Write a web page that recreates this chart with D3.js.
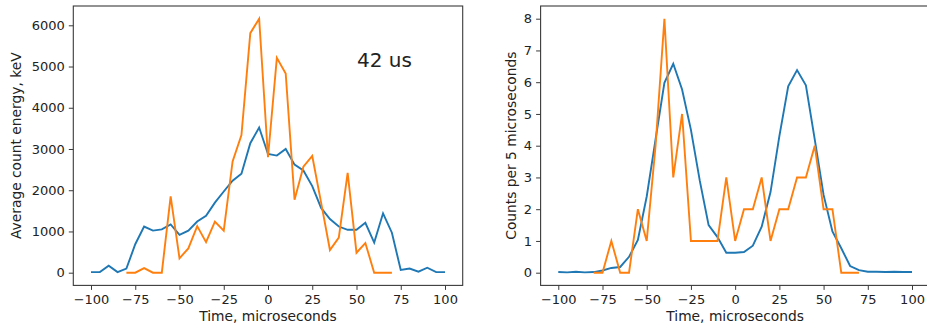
<!DOCTYPE html>
<html>
<head>
<meta charset="utf-8">
<script src="https://cdn.jsdelivr.net/npm/d3@7/dist/d3.min.js"></script>
<style>
  html, body { margin: 0; padding: 0; background: #fff; }
  svg { display: block; }
  text { font-family: "DejaVu Sans", sans-serif; fill: #222; }
</style>
</head>
<body>
<svg id="fig" width="927" height="326"></svg>
<script>
// Time bins (microseconds) for the full window and for the single-event trace
const timesAll = [-100, -95, -90, -85, -80, -75, -70, -65, -60, -55, -50, -45, -40, -35, -30, -25, -20, -15, -10, -5,
                  0, 5, 10, 15, 20, 25, 30, 35, 40, 45, 50, 55, 60, 65, 70, 75, 80, 85, 90, 95, 100];
const timesEvent = [-80, -75, -70, -65, -60, -55, -50, -45, -40, -35, -30, -25, -20, -15, -10, -5,
                    0, 5, 10, 15, 20, 25, 30, 35, 40, 45, 50, 55, 60, 65, 70];

// Average count energy, keV
const energyMean = [15, 15, 170, 15, 100, 690, 1120, 1020, 1050, 1170, 920, 1020, 1240, 1380, 1700, 1970, 2230, 2400, 3140, 3520,
                    2880, 2840, 3000, 2620, 2480, 2100, 1570, 1300, 1120, 1040, 1040, 1210, 730, 1440, 970, 65, 100, 25, 120, 15, 15];
const energyEvent = [0, 0, 110, 0, 0, 1850, 350, 590, 1130, 740, 1240, 1020, 2700, 3340, 5810, 6160,
                     2800, 5210, 4830, 1770, 2570, 2830, 1700, 550, 850, 2420, 485, 720, 0, 0, 0];

// Counts per 5 microseconds
const countsMean = [0.02, 0.01, 0.03, 0.01, 0.02, 0.07, 0.15, 0.18, 0.5, 1.03, 2.4, 4.2, 5.98, 6.58, 5.77, 4.5, 2.9, 1.5, 1.12, 0.63,
                    0.63, 0.65, 0.85, 1.45, 2.54, 4.3, 5.87, 6.38, 5.9, 4.2, 2.45, 1.3, 0.77, 0.21, 0.08, 0.03, 0.03, 0.02, 0.03, 0.02, 0.02];
const countsEvent = [0, 0, 1, 0, 0, 2, 1, 4, 8, 3, 5, 1, 1, 1, 1, 3,
                     1, 2, 2, 3, 1, 2, 2, 3, 3, 4, 2, 2, 0, 0, 0];

const xTicks = [-100, -75, -50, -25, 0, 25, 50, 75, 100];
const energyTicks = [0, 1000, 2000, 3000, 4000, 5000, 6000];
const countTicks = [0, 1, 2, 3, 4, 5, 6, 7, 8];
const annotation = "42 us";

const svg = d3.select("#fig");
const BLUE = "#1f77b4", ORANGE = "#ff7f0e";
const fmt = d3.format("d");

function padded(lo, hi) {
  const m = (hi - lo) * 0.05;
  return [lo - m, hi + m];
}

function panel(opt) {
  const { left, right, top, bottom, series, yTicks, yLabel, yLabelX, xDomain, yDomain } = opt;
  const x = d3.scaleLinear().domain(xDomain).range([left, right]);
  const y = d3.scaleLinear().domain(yDomain).range([bottom, top]);
  const g = svg.append("g");

  const clipId = "clip" + Math.round(left);
  svg.append("clipPath").attr("id", clipId)
    .append("rect").attr("x", left).attr("y", top).attr("width", right - left).attr("height", bottom - top);

  const line = d3.line().x(d => x(d[0])).y(d => y(d[1]));
  series.forEach(s => {
    g.append("path")
      .attr("clip-path", `url(#${clipId})`)
      .datum(s.t.map((t, i) => [t, s.v[i]]))
      .attr("d", line)
      .attr("fill", "none")
      .attr("stroke", s.color)
      .attr("stroke-width", 1.9)
      .attr("stroke-linejoin", "miter")
      .attr("stroke-linecap", "butt");
  });

  // frame
  g.append("rect")
    .attr("x", left).attr("y", top)
    .attr("width", right - left).attr("height", bottom - top)
    .attr("fill", "none").attr("stroke", "#3a3a3a").attr("stroke-width", 1.1);

  const xa = g.append("g").attr("transform", `translate(0,${bottom})`)
    .call(d3.axisBottom(x).tickValues(xTicks).tickFormat(fmt).tickSizeInner(4.5).tickSizeOuter(0).tickPadding(5));
  xa.select(".domain").remove();
  xa.selectAll("line").attr("stroke", "#3a3a3a").attr("stroke-width", 1);
  xa.selectAll("text").attr("font-size", 13).attr("font-family", "DejaVu Sans").attr("fill", "#222");

  const ya = g.append("g").attr("transform", `translate(${left},0)`)
    .call(d3.axisLeft(y).tickValues(yTicks).tickFormat(fmt).tickSizeInner(4.5).tickSizeOuter(0).tickPadding(4));
  ya.select(".domain").remove();
  ya.selectAll("line").attr("stroke", "#3a3a3a").attr("stroke-width", 1);
  ya.selectAll("text").attr("font-size", 13).attr("font-family", "DejaVu Sans").attr("fill", "#222");

  g.append("text")
    .attr("x", (left + right) / 2).attr("y", 320.5)
    .attr("text-anchor", "middle").attr("font-size", 13.8)
    .text("Time, microseconds");

  g.append("text")
    .attr("transform", `translate(${yLabelX},${(top + bottom) / 2}) rotate(-90)`)
    .attr("text-anchor", "middle").attr("font-size", 13.8)
    .text(yLabel);

  return { x, y, g };
}

const xDom = padded(-100, 100);

const p1 = panel({
  left: 73.3, right: 462.7, top: 6, bottom: 285.4,
  xDomain: xDom,
  yDomain: padded(0, d3.max([...energyMean, ...energyEvent])),
  yTicks: energyTicks,
  yLabel: "Average count energy, keV",
  yLabelX: 21,
  series: [
    { t: timesAll, v: energyMean, color: BLUE },
    { t: timesEvent, v: energyEvent, color: ORANGE }
  ]
});

p1.g.append("text")
  .attr("x", 357).attr("y", 67)
  .attr("font-size", 20)
  .text(annotation);

panel({
  left: 540.6, right: 929.7, top: 6, bottom: 285.4,
  xDomain: xDom,
  yDomain: padded(0, d3.max([...countsMean, ...countsEvent])),
  yTicks: countTicks,
  yLabel: "Counts per 5 microseconds",
  yLabelX: 516,
  series: [
    { t: timesAll, v: countsMean, color: BLUE },
    { t: timesEvent, v: countsEvent, color: ORANGE }
  ]
});
</script>
</body>
</html>
